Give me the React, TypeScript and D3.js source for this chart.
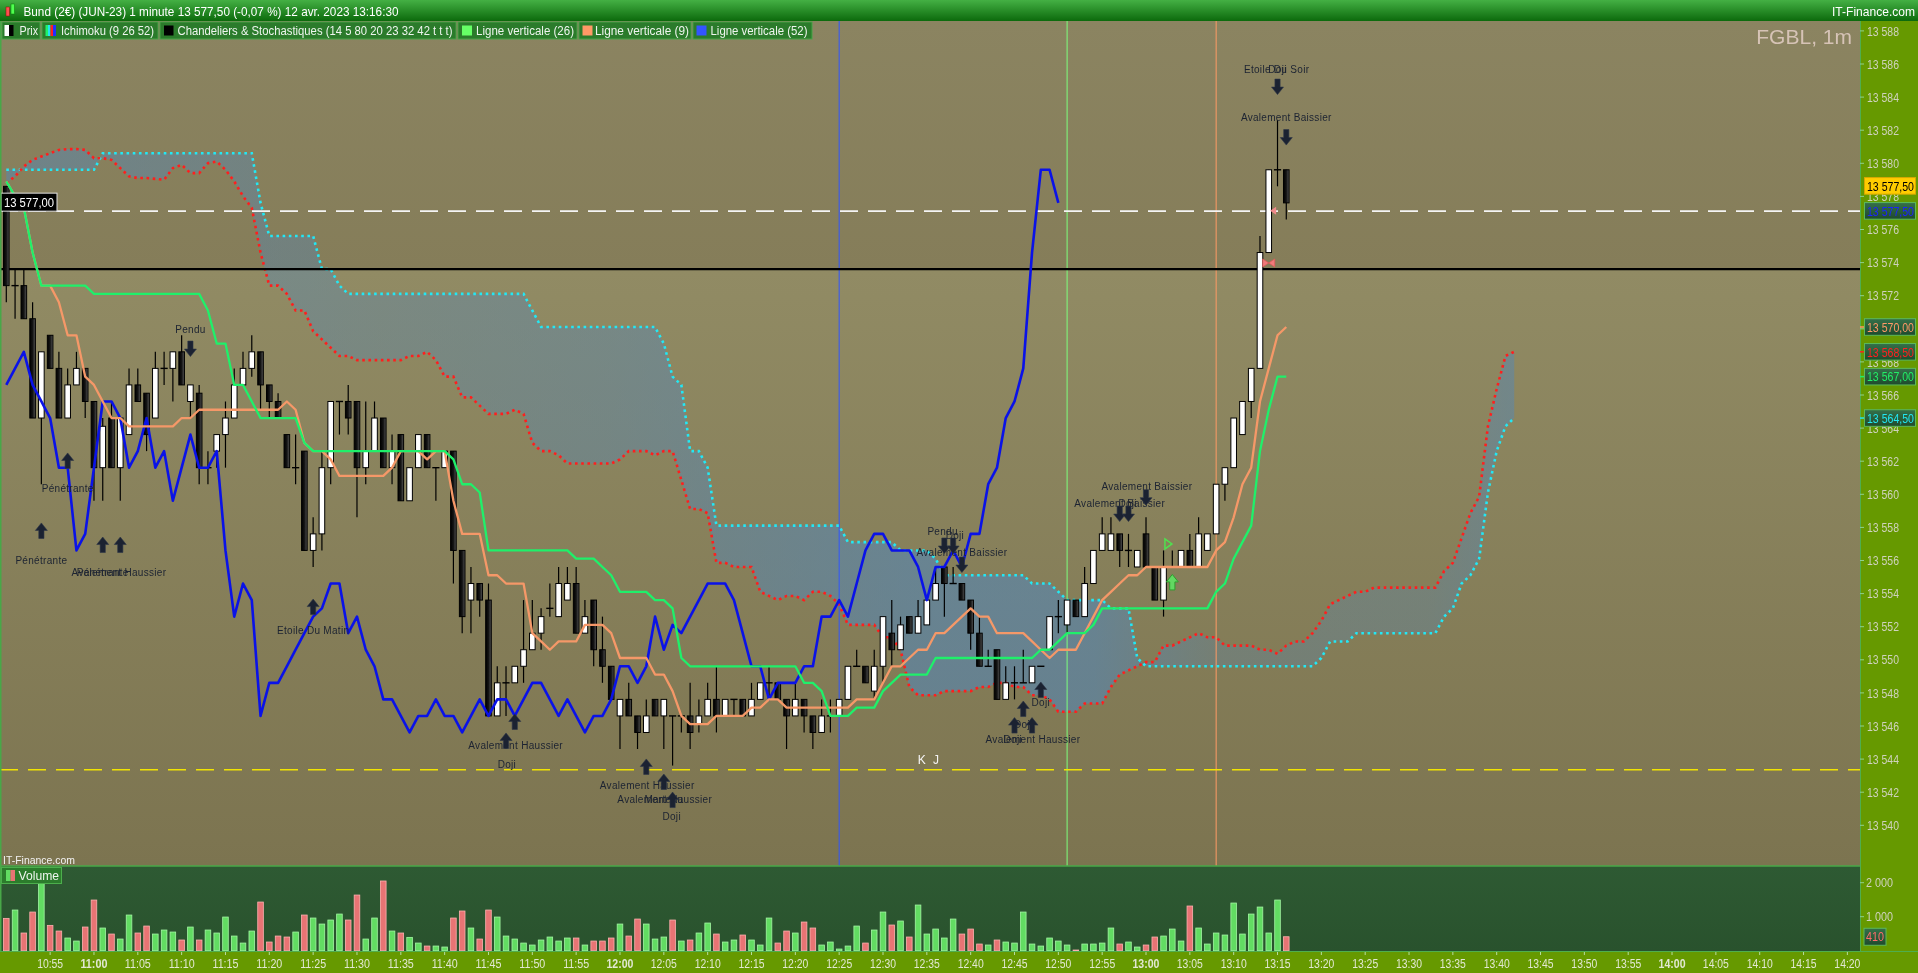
import React, { useEffect } from "react";
import * as d3 from "d3";

// ---------------- DATA ----------------
const SESSION_START = "10:50";
const OPEN = [13578.5, 13572.5, 13572.5, 13570.5, 13564.5, 13569.5, 13567.5, 13564.5, 13566.5, 13567.5,
  13565.5, 13561.5, 13564.5, 13561.5, 13563.5, 13566.5, 13566, 13564.5, 13567.5, 13567.5,
  13568.5, 13565.5, 13566, 13561.5, 13562.5, 13563.5, 13564.5, 13566.5, 13567.5, 13568.5,
  13566.5, 13565.5, 13563.5, 13561.5, 13562.5, 13556.5, 13557.5, 13561.5, 13565.5, 13565.5,
  13565.5, 13561.5, 13562.5, 13564.5, 13561.5, 13563.5, 13559.5, 13561.5, 13563.5, 13561.5,
  13561.5, 13562.5, 13556.5, 13553.5, 13554.5, 13553.5, 13546.5, 13548.5, 13548.5, 13549.5,
  13550.5, 13551.5, 13553, 13552.5, 13553.5, 13554.5, 13551.5, 13553.5, 13550.5, 13549.5,
  13546.5, 13547.5, 13546.5, 13545.5, 13547.5, 13546.5, 13546.5, 13546.5, 13546.5, 13546,
  13546.5, 13547.5, 13546.5, 13547.5, 13547.5, 13546.5, 13547.5, 13548.5, 13548.5, 13547.5,
  13546.5, 13547.5, 13546.5, 13545.5, 13546.5, 13546.5, 13547.5, 13549.5, 13549.5, 13548,
  13549.5, 13551.5, 13550.5, 13552.5, 13551.5, 13552, 13553.5, 13555.5, 13554.5, 13554.5,
  13553.5, 13551.5, 13549.5, 13550.5, 13547.5, 13548.5, 13548.5, 13548.5, 13549.5, 13550.5,
  13552.5, 13552, 13553.5, 13552.5, 13554.5, 13556.5, 13556.5, 13557.5, 13556.5, 13555.5,
  13557.5, 13555.5, 13553.5, 13555.5, 13555.5, 13556.5, 13555.5, 13556.5, 13557.5, 13560.5,
  13561.5, 13563.5, 13565.5, 13567.5, 13574.5, 13579.5, 13579.5];
const HIGH = [13578.5, 13573.5, 13573.5, 13571.5, 13568.5, 13569.5, 13568.5, 13567.5, 13568.5, 13567.5,
  13565.5, 13564.5, 13565.5, 13564.5, 13567.5, 13567.5, 13566, 13568.5, 13568.5, 13568.5,
  13569.5, 13566.5, 13566.5, 13562.5, 13563.5, 13565.5, 13567.5, 13568.5, 13569.5, 13568.5,
  13566.5, 13566, 13563.5, 13563.5, 13562.5, 13558.5, 13562.5, 13565.5, 13565.5, 13566.5,
  13565.5, 13565.5, 13565.5, 13564.5, 13563.5, 13563.5, 13561.5, 13563.5, 13563.5, 13561.5,
  13562.5, 13562.5, 13556.5, 13555.5, 13554.5, 13554.5, 13549.5, 13549.5, 13549.5, 13553.5,
  13553.5, 13553, 13554.5, 13555.5, 13555.5, 13555.5, 13553.5, 13553.5, 13552.5, 13549.5,
  13547.5, 13548.5, 13546.5, 13547.5, 13547.5, 13547.5, 13546.5, 13546.5, 13548.5, 13547.5,
  13548.5, 13549.5, 13547.5, 13547.5, 13547.5, 13548.5, 13548.5, 13549.5, 13548.5, 13547.5,
  13548.5, 13547.5, 13546.5, 13547.5, 13547.5, 13547.5, 13549.5, 13550.5, 13549.5, 13550.5,
  13552.5, 13553.5, 13552.5, 13552.5, 13553.5, 13553.5, 13555.5, 13555.5, 13555.5, 13554.5,
  13553.5, 13552.5, 13550.5, 13550.5, 13549.5, 13549.5, 13550.5, 13549.5, 13549.5, 13552.5,
  13553.5, 13553.5, 13553.5, 13555.5, 13556.5, 13558.5, 13558.5, 13557.5, 13557.5, 13556.5,
  13558.5, 13555.5, 13556.5, 13556.5, 13556.5, 13557.5, 13558.5, 13557.5, 13560.5, 13561.5,
  13564.5, 13565.5, 13567.5, 13575.5, 13579.5, 13582.5, 13579.5];
const LOW = [13571.5, 13570.5, 13570.5, 13564.5, 13560.5, 13567.5, 13564.5, 13564.5, 13566.5, 13564.5,
  13559.5, 13559.5, 13561.5, 13559.5, 13563.5, 13565.5, 13562.5, 13564.5, 13566.5, 13565.5,
  13566.5, 13564.5, 13560.5, 13560.5, 13561.5, 13561.5, 13564.5, 13566.5, 13567, 13565,
  13564.5, 13564.5, 13561.5, 13560.5, 13556.5, 13555.5, 13556.5, 13560.5, 13563.5, 13563.5,
  13558.5, 13560.5, 13562.5, 13561.5, 13560.5, 13559.5, 13559.5, 13561.5, 13561.5, 13559.5,
  13561.5, 13554.5, 13551.5, 13551.5, 13552.5, 13546.5, 13546.5, 13546.5, 13548.5, 13548.5,
  13550.5, 13550.5, 13552.5, 13552.5, 13553.5, 13551.5, 13551.5, 13549.5, 13548.5, 13547.5,
  13544.5, 13546.5, 13544.5, 13545.5, 13546.5, 13544.5, 13543.5, 13545.5, 13544.5, 13545.5,
  13546.5, 13545.5, 13546.5, 13546.5, 13546.5, 13546.5, 13547.5, 13547.5, 13547.5, 13544.5,
  13546.5, 13545.5, 13544.5, 13545.5, 13545.5, 13546.5, 13547.5, 13549.5, 13548.5, 13547.5,
  13548.5, 13549.5, 13550.5, 13551.5, 13551.5, 13552, 13553.5, 13552.5, 13554.5, 13553.5,
  13550.5, 13549.5, 13549.5, 13547.5, 13547.5, 13547.5, 13548.5, 13548.5, 13549.5, 13550.5,
  13551.5, 13551.5, 13552.5, 13552.5, 13554.5, 13556.5, 13556.5, 13555.5, 13555.5, 13555.5,
  13555.5, 13553.5, 13552.5, 13555.5, 13555.5, 13555.5, 13555.5, 13556.5, 13557.5, 13559.5,
  13561.5, 13563.5, 13564.5, 13567.5, 13574.5, 13578.5, 13576.5];
const CLOSE = [13572.5, 13572.5, 13570.5, 13564.5, 13568.5, 13567.5, 13564.5, 13566.5, 13567.5, 13565.5,
  13561.5, 13564, 13561.5, 13564.5, 13566.5, 13565.5, 13563.5, 13567.5, 13567.5, 13568.5,
  13566.5, 13566.5, 13561.5, 13561.5, 13563.5, 13564.5, 13566.5, 13567.5, 13568.5, 13566.5,
  13565.5, 13564.5, 13561.5, 13561.5, 13556.5, 13557.5, 13561.5, 13565.5, 13565.5, 13564.5,
  13561.5, 13562.5, 13564.5, 13561.5, 13562.5, 13559.5, 13561.5, 13563.5, 13561.5, 13561.5,
  13562.5, 13556.5, 13552.5, 13554.5, 13553.5, 13546.5, 13548.5, 13548.5, 13549.5, 13550.5,
  13551.5, 13552.5, 13553, 13554.5, 13554.5, 13551.5, 13552.5, 13550.5, 13549.5, 13547.5,
  13547.5, 13546.5, 13545.5, 13546.5, 13546.5, 13547.5, 13546.5, 13546.5, 13545.5, 13546.5,
  13547.5, 13546.5, 13547.5, 13547.5, 13546.5, 13547.5, 13548.5, 13548.5, 13547.5, 13546.5,
  13547.5, 13546.5, 13545.5, 13546.5, 13546.5, 13547.5, 13549.5, 13549.5, 13548.5, 13549.5,
  13552.5, 13550.5, 13552, 13551.5, 13552.5, 13553.5, 13554.5, 13554.5, 13554.5, 13553.5,
  13551.5, 13549.5, 13549.5, 13547.5, 13548.5, 13548.5, 13548.5, 13549.5, 13549.5, 13552.5,
  13552.5, 13553.5, 13552.5, 13554.5, 13556.5, 13557.5, 13557.5, 13556.5, 13556.5, 13556.5,
  13555.5, 13553.5, 13555.5, 13555.5, 13556.5, 13555.5, 13557.5, 13557.5, 13560.5, 13561.5,
  13564.5, 13565.5, 13567.5, 13574.5, 13579.5, 13579.5, 13577.5];
const VOLUME = [951, 1196, 520, 1137, 2000, 745, 578, 373, 284, 696,
  1490, 667, 490, 343, 1049, 520, 725, 490, 608, 549,
  314, 696, 314, 608, 520, 990, 431, 225, 578, 1431,
  255, 431, 402, 549, 1049, 961, 784, 902, 1078, 902,
  1637, 343, 961, 2050, 578, 520, 392, 225, 137, 137,
  108, 961, 1167, 667, 343, 1196, 990, 431, 343, 225,
  167, 314, 402, 284, 373, 373, 167, 284, 284, 373,
  784, 431, 931, 784, 343, 402, 902, 284, 314, 520,
  814, 490, 255, 314, 461, 314, 167, 961, 225, 578,
  520, 843, 667, 167, 255, 49, 137, 725, 225, 608,
  1137, 755, 873, 402, 1343, 490, 637, 373, 931, 490,
  637, 196, 167, 314, 255, 225, 1137, 196, 137, 373,
  284, 167, 20, 196, 196, 225, 667, 196, 255, 108,
  167, 402, 431, 637, 284, 1314, 667, 196, 520, 461,
  1402, 490, 1078, 1284, 520, 1490, 410];

// Ichimoku values before enough history exists
const TENKAN_WARMUP = [13578.8, 13577.9, 13577.2, 13574.5, 13572.5, 13572.5, 13571.5, 13569.5];
const KIJUN_WARMUP = [13578.8, 13577.9, 13577.2, 13574.5, 13572.5, 13572.5, 13572.5, 13572.5, 13572.5, 13572.5,
  13572, 13572, 13572, 13572, 13572, 13572, 13572, 13572, 13572, 13572, 13572, 13572, 13572, 13571, 13569];
const SENKOU_A_WARMUP = [13578.7, 13579.1, 13579.7, 13580.1, 13580.3, 13580.5, 13580.7, 13580.75, 13580.75, 13580.7,
  13580.2, 13580.2, 13580.1, 13579.6, 13579.1, 13579, 13579, 13578.95, 13578.9, 13579.6,
  13579.8, 13579.3, 13579.3, 13579.9, 13580, 13579.5];
const SENKOU_B_WARMUP = [13579.5, 13579.5, 13579.5, 13579.5, 13579.5, 13579.5, 13579.5, 13579.5, 13579.5, 13579.5,
  13579.5, 13580.5, 13580.5, 13580.5, 13580.5, 13580.5, 13580.5, 13580.5, 13580.5, 13580.5,
  13580.5, 13580.5, 13580.5, 13580.5, 13580.5, 13580.5, 13580.5, 13580.5, 13580.5, 13577.5,
  13575.5, 13575.5, 13575.5, 13575.5, 13575.5, 13575.5, 13573.5, 13573.5, 13572.5, 13572,
  13572, 13572, 13572, 13572, 13572, 13572, 13572, 13572, 13572, 13572,
  13572, 13572, 13572, 13572, 13572, 13572, 13572, 13572, 13572, 13572,
  13571, 13570, 13570, 13570, 13570, 13570, 13570, 13570, 13570, 13570,
  13570, 13570, 13570, 13570, 13570, 13569, 13567];
const TENKAN_PERIOD = 9;
const KIJUN_PERIOD = 26;
const SENKOU_PERIOD = 52;

const PRICE_TICKS = [13540, 13542, 13544, 13546, 13548, 13550, 13552, 13554, 13556, 13558, 13560, 13562,
  13564, 13566, 13568, 13570, 13572, 13574, 13576, 13578, 13580, 13582, 13584, 13586, 13588];
const TIME_LABELS = ["10:55", "11:00", "11:05", "11:10", "11:15", "11:20", "11:25", "11:30", "11:35", "11:40",
  "11:45", "11:50", "11:55", "12:00", "12:05", "12:10", "12:15", "12:20", "12:25", "12:30", "12:35", "12:40",
  "12:45", "12:50", "12:55", "13:00", "13:05", "13:10", "13:15", "13:20", "13:25", "13:30", "13:35", "13:40",
  "13:45", "13:50", "13:55", "14:00", "14:05", "14:10", "14:15", "14:20"];
const VOLUME_TICKS = [1000, 2000];
const VLINE_INDEX = [121, 138, 95]; // Ligne verticale (26), (9), (52)
const LEVEL_BLACK = 13573.5;
const LEVEL_WHITE = 13577;
const LEVEL_YELLOW = 13543.25;

const PATTERN_TEXTS = [
  { t: "Pendu", i: 21, p: 13569.88 },
  { t: "Pénétrante", i: 7, p: 13560.27 },
  { t: "Pénétrante", i: 4, p: 13555.88 },
  { t: "Pénétrante", i: 11, p: 13555.2 },
  { t: "Avalement Haussier", i: 12.85, p: 13555.2 },
  { t: "Etoile Du Matin", i: 35, p: 13551.69 },
  { t: "Avalement Haussier", i: 58.1, p: 13544.74 },
  { t: "Doji", i: 57.1, p: 13543.6 },
  { t: "Avalement Haussier", i: 73.1, p: 13542.28 },
  { t: "Avalement Haussier", i: 75.1, p: 13541.44 },
  { t: "Marteau", i: 75, p: 13541.44 },
  { t: "Doji", i: 75.9, p: 13540.41 },
  { t: "Pendu", i: 106.8, p: 13557.63 },
  { t: "Doji", i: 108.2, p: 13557.43 },
  { t: "Avalement Baissier", i: 109, p: 13556.36 },
  { t: "Avalement Haussier", i: 117.1, p: 13545.06 },
  { t: "Doji", i: 114.8, p: 13545.06 },
  { t: "Doji", i: 116, p: 13546.0 },
  { t: "Doji", i: 118, p: 13547.3 },
  { t: "Avalement Baissier", i: 130.1, p: 13560.36 },
  { t: "Avalement Baissier", i: 127, p: 13559.33 },
  { t: "Doji", i: 127.9, p: 13559.33 },
  { t: "Etoile Du Soir", i: 144.9, p: 13585.59 },
  { t: "Doji", i: 145, p: 13585.59 },
  { t: "Avalement Baissier", i: 146, p: 13582.66 },
];
const PATTERN_ARROWS = [
  { d: "down", i: 21, p: 13569.15 },
  { d: "up", i: 7, p: 13562.39 },
  { d: "up", i: 4, p: 13558.16 },
  { d: "up", i: 11, p: 13557.31 },
  { d: "up", i: 13, p: 13557.31 },
  { d: "up", i: 35, p: 13553.56 },
  { d: "up", i: 57, p: 13545.47 },
  { d: "up", i: 58, p: 13546.62 },
  { d: "up", i: 73, p: 13543.9 },
  { d: "up", i: 75, p: 13542.99 },
  { d: "up", i: 76, p: 13541.9 },
  { d: "down", i: 107, p: 13557.25 },
  { d: "down", i: 108, p: 13557.25 },
  { d: "down", i: 109, p: 13556.1 },
  { d: "up", i: 115, p: 13546.4 },
  { d: "up", i: 116, p: 13547.4 },
  { d: "up", i: 117, p: 13546.4 },
  { d: "up", i: 118, p: 13548.55 },
  { d: "down", i: 130, p: 13560.17 },
  { d: "down", i: 127, p: 13559.18 },
  { d: "down", i: 128, p: 13559.18 },
  { d: "down", i: 145, p: 13584.98 },
  { d: "down", i: 146, p: 13581.93 },
];
const SIGNAL_UP = { i: 133, p: 13555.05 };
const SIGNAL_TRI = { i: 132.5, p: 13556.89 };
const PINK_MARK = { i: 144, p: 13573.87 };
const PINK_TRI = { i: 144.5, p: 13577.03 };
const KJ_LABEL = { t: "K J", i: 105.3, p: 13543.84 };

// ---------------- GEOMETRY ----------------
const W = 1918, H = 973;
const AXIS_X = 1860;
const CHART_TOP = 21, CHART_BOTTOM = 866, VOL_BOTTOM = 951;

const toMin = (s: string) => { const [h, m] = s.split(":").map(Number); return h * 60 + m; };
const START = toMin(SESSION_START);

const x = d3.scaleLinear().domain([0, 210]).range([6.3, 6.3 + 8.767 * 210]);
const y = d3.scaleLinear().domain([13560, 13580]).range([492.5, 161.5]);
const yv = d3.scaleLinear().domain([0, 2000]).range([950.7, 882.7]);

const N = CLOSE.length;
const midRange = (a: number, b: number) =>
  ((d3.max(HIGH.slice(a, b + 1)) as number) + (d3.min(LOW.slice(a, b + 1)) as number)) / 2;
const tenkan = CLOSE.map((_, i) => (i < TENKAN_PERIOD - 1 ? TENKAN_WARMUP[i] : midRange(i - TENKAN_PERIOD + 1, i)));
const kijun = CLOSE.map((_, i) => (i < KIJUN_PERIOD - 1 ? KIJUN_WARMUP[i] : midRange(i - KIJUN_PERIOD + 1, i)));
const SHIFT = KIJUN_PERIOD;
const senkouA = d3.range(N + SHIFT).map((j) =>
  j < SHIFT ? SENKOU_A_WARMUP[j] : (tenkan[j - SHIFT] + kijun[j - SHIFT]) / 2);
const senkouB = d3.range(N + SHIFT).map((j) =>
  j < SHIFT + SENKOU_PERIOD - 1 ? SENKOU_B_WARMUP[j] : midRange(j - SHIFT - SENKOU_PERIOD + 1, j - SHIFT));
const chikou = CLOSE.slice(SHIFT);

const line = d3.line<number>().x((_, i) => x(i)).y((d) => y(d));
const cloud = d3.area<number>().x((_, j) => x(j)).y0((_, j) => y(senkouA[j])).y1((_, j) => y(senkouB[j]));

const fmt = (v: number, dec: boolean) => {
  const s = dec ? v.toFixed(2).replace(".", ",") : String(Math.round(v));
  const [ip, fp] = s.split(",");
  const ints = ip.replace(/\B(?=(\d{3})+(?!\d))/g, " ");
  return fp !== undefined ? ints + "," + fp : ints;
};

function arrowPath(cx: number, top: number, dir: string) {
  const w = 6, sw = 2.6, hh = 7.5, L = 15.5;
  if (dir === "up")
    return `M${cx},${top}L${cx + w},${top + hh}L${cx + sw},${top + hh}L${cx + sw},${top + L}L${cx - sw},${top + L}L${cx - sw},${top + hh}L${cx - w},${top + hh}Z`;
  return `M${cx - sw},${top}L${cx + sw},${top}L${cx + sw},${top + L - hh}L${cx + w},${top + L - hh}L${cx},${top + L}L${cx - w},${top + L - hh}L${cx - sw},${top + L - hh}Z`;
}

const UI = "'Liberation Sans', Arial, sans-serif";

export default function App() {
  useEffect(() => {
    document.body.style.margin = "0";
    document.body.style.overflow = "hidden";
  }, []);

  const last = CLOSE[N - 1];
  const valueBoxes = [
    { v: tenkan[N - 1], color: "#ff9966" },
    { v: senkouA[N + SHIFT - 1], color: "#ff2020" },
    { v: kijun[N - 1], color: "#22ee66" },
    { v: senkouB[N + SHIFT - 1], color: "#22e5f0" },
  ];
  const vColors = ["#7dff7d", "#ff9a66", "#2f55ff"];

  const legend = [
    { label: "Prix", x0: 2, x1: 40, tx: 19.5, tl: 18.5 },
    { label: "Ichimoku (9 26 52)", x0: 42, x1: 158, tx: 61, tl: 93 },
    { label: "Chandeliers & Stochastiques (14 5 80 20 23 32 42 t t t)", x0: 160, x1: 456, tx: 177.5, tl: 275 },
    { label: "Ligne verticale (26)", x0: 458, x1: 577, tx: 476, tl: 98 },
    { label: "Ligne verticale (9)", x0: 579, x1: 691, tx: 595, tl: 94 },
    { label: "Ligne verticale (52)", x0: 693, x1: 812, tx: 710.5, tl: 97 },
  ];

  return (
    <svg width={W} height={H} viewBox={`0 0 ${W} ${H}`}
      style={{ position: "fixed", left: 0, top: 0, display: "block" }}>
      <defs>
        <linearGradient id="bgTop" x1="0" y1="0" x2="0" y2="1">
          <stop offset="0" stopColor="#8b8461" />
          <stop offset="1" stopColor="#857d59" />
        </linearGradient>
        <linearGradient id="bgBot" x1="0" y1="0" x2="0" y2="1">
          <stop offset="0" stopColor="#918b64" />
          <stop offset="1" stopColor="#7c7450" />
        </linearGradient>
        <linearGradient id="volBg" x1="0" y1="0" x2="0" y2="1">
          <stop offset="0" stopColor="#2e5a33" />
          <stop offset="1" stopColor="#29522d" />
        </linearGradient>
        <linearGradient id="hdr" x1="0" y1="0" x2="0" y2="1">
          <stop offset="0" stopColor="#44b044" />
          <stop offset="1" stopColor="#0c6a0c" />
        </linearGradient>
        <linearGradient id="blackBody" x1="0" y1="0" x2="1" y2="0">
          <stop offset="0" stopColor="#000" />
          <stop offset="0.5" stopColor="#141414" />
          <stop offset="1" stopColor="#555" />
        </linearGradient>
        <linearGradient id="boxBg" x1="0" y1="0" x2="0" y2="1">
          <stop offset="0" stopColor="#34704a" />
          <stop offset="1" stopColor="#1f4a2d" />
        </linearGradient>
        <linearGradient id="cloudFill" gradientUnits="userSpaceOnUse" x1="0" y1="0" x2="1520" y2="0">
          <stop offset="0" stopColor="#5087be" stopOpacity="0.45" />
          <stop offset="0.25" stopColor="#5087be" stopOpacity="0.33" />
          <stop offset="0.4" stopColor="#5087be" stopOpacity="0.38" />
          <stop offset="0.6" stopColor="#5087be" stopOpacity="0.55" />
          <stop offset="0.72" stopColor="#5087be" stopOpacity="0.55" />
          <stop offset="0.8" stopColor="#5087be" stopOpacity="0.28" />
          <stop offset="0.94" stopColor="#5087be" stopOpacity="0.3" />
          <stop offset="1" stopColor="#5087be" stopOpacity="0.45" />
        </linearGradient>
        <clipPath id="chartClip">
          <rect x={0} y={CHART_TOP} width={AXIS_X} height={CHART_BOTTOM - CHART_TOP} />
        </clipPath>
      </defs>

      {/* backgrounds */}
      <rect x={0} y={CHART_TOP} width={AXIS_X} height={y(LEVEL_BLACK) - CHART_TOP} fill="url(#bgTop)" />
      <rect x={0} y={y(LEVEL_BLACK)} width={AXIS_X} height={CHART_BOTTOM - y(LEVEL_BLACK)} fill="url(#bgBot)" />
      <rect x={0} y={CHART_BOTTOM} width={AXIS_X} height={VOL_BOTTOM - CHART_BOTTOM} fill="url(#volBg)" />
      <rect x={AXIS_X} y={CHART_TOP} width={W - AXIS_X} height={H - CHART_TOP} fill="#669900" />
      <rect x={0} y={VOL_BOTTOM} width={W} height={H - VOL_BOTTOM} fill="#669900" />

      <g clipPath="url(#chartClip)">
        {/* cloud */}
        <path d={cloud(senkouA) || ""} fill="url(#cloudFill)" />

        {/* vertical lines */}
        {VLINE_INDEX.map((vi, k) => (
          <line key={k} x1={x(vi)} x2={x(vi)} y1={CHART_TOP} y2={CHART_BOTTOM} stroke={vColors[k]} strokeWidth={1} />
        ))}

        {/* senkou spans */}
        <path d={line(senkouB) || ""} fill="none" stroke="#22e8f5" strokeWidth={2.6} strokeDasharray="2.6 3.6" />
        <path d={line(senkouA) || ""} fill="none" stroke="#ff1e1e" strokeWidth={2.6} strokeDasharray="2.6 3.6" />

        {/* horizontal levels */}
        <line x1={0} x2={AXIS_X} y1={y(LEVEL_BLACK)} y2={y(LEVEL_BLACK)} stroke="#000" strokeWidth={2.2} />
        <line x1={0} x2={AXIS_X} y1={y(LEVEL_WHITE)} y2={y(LEVEL_WHITE)} stroke="#f4f4f4" strokeWidth={1.6} strokeDasharray="18 10" />
        <line x1={0} x2={AXIS_X} y1={y(LEVEL_YELLOW)} y2={y(LEVEL_YELLOW)} stroke="#f2e400" strokeWidth={1.6} strokeDasharray="18 10" />

        {/* candles */}
        {OPEN.map((o, i) => {
          const c = CLOSE[i];
          const cx = x(i);
          const t = y(Math.max(o, c)), b = y(Math.min(o, c));
          return (
            <g key={i}>
              <line x1={cx} x2={cx} y1={y(HIGH[i])} y2={y(LOW[i])} stroke="#000" strokeWidth={1.2} />
              {o === c ? (
                <line x1={cx - 3.6} x2={cx + 3.6} y1={t} y2={t} stroke="#000" strokeWidth={1.4} />
              ) : (
                <rect x={cx - 2.8} y={t} width={5.6} height={b - t}
                  fill={c > o ? "#ffffff" : "url(#blackBody)"} stroke="#000" strokeWidth={1} />
              )}
            </g>
          );
        })}

        {/* ichimoku lines */}
        <path d={line(chikou) || ""} fill="none" stroke="#0a12e8" strokeWidth={2.6} strokeLinejoin="round" />
        <path d={line(tenkan) || ""} fill="none" stroke="#f59868" strokeWidth={2.3} strokeLinejoin="round" />
        <path d={line(kijun) || ""} fill="none" stroke="#1ff06a" strokeWidth={2.3} strokeLinejoin="round" />

        {/* pattern labels */}
        {PATTERN_TEXTS.map((a, k) => (
          <text key={k} x={x(a.i)} y={y(a.p) + 3.6} textAnchor="middle" fontFamily={UI} fontSize={10}
            letterSpacing={0.3} fill="#1c2332">{a.t}</text>
        ))}
        {PATTERN_ARROWS.map((a, k) => (
          <path key={k} d={arrowPath(x(a.i), y(a.p), a.d)} fill="#1b2231" stroke="#2d3548" strokeWidth={0.6} />
        ))}
        <path d={arrowPath(x(SIGNAL_UP.i), y(SIGNAL_UP.p), "up")} fill="#62d862" stroke="#2e9e2e" strokeWidth={1} />
        <path d={`M${x(SIGNAL_TRI.i) - 3},${y(SIGNAL_TRI.p) - 5}L${x(SIGNAL_TRI.i) + 4},${y(SIGNAL_TRI.p)}L${x(SIGNAL_TRI.i) - 3},${y(SIGNAL_TRI.p) + 5}Z`}
          fill="none" stroke="#4fe04f" strokeWidth={1.5} />
        <path d={`M${x(PINK_MARK.i) - 6},${y(PINK_MARK.p) - 4}L${x(PINK_MARK.i)},${y(PINK_MARK.p)}L${x(PINK_MARK.i) - 6},${y(PINK_MARK.p) + 4}Z M${x(PINK_MARK.i) + 6},${y(PINK_MARK.p) - 4}L${x(PINK_MARK.i)},${y(PINK_MARK.p)}L${x(PINK_MARK.i) + 6},${y(PINK_MARK.p) + 4}Z`}
          fill="#f07a7a" stroke="#e05a5a" strokeWidth={0.8} />
        <path d={`M${x(PINK_TRI.i) + 3},${y(PINK_TRI.p) - 4}L${x(PINK_TRI.i) - 3},${y(PINK_TRI.p)}L${x(PINK_TRI.i) + 3},${y(PINK_TRI.p) + 4}Z`}
          fill="#f08a8a" />
        <text x={x(KJ_LABEL.i)} y={y(KJ_LABEL.p) + 4.5} textAnchor="middle" fontFamily={UI} fontSize={12}
          letterSpacing={2} fill="#f4f4f4">{KJ_LABEL.t}</text>
      </g>

      {/* left level tag */}
      <rect x={1} y={y(LEVEL_WHITE) - 18} width={56} height={18} fill="#000" stroke="#e0e0e0" strokeWidth={1} />
      <text x={4} y={y(LEVEL_WHITE) - 4.5} fontFamily={UI} fontSize={12.5} fill="#fff" textLength={50}
        lengthAdjust="spacingAndGlyphs">{fmt(LEVEL_WHITE, true)}</text>

      {/* watermark */}
      <text x={1852} y={44} textAnchor="end" fontFamily={UI} fontSize={21} fill="#d6c3b6">FGBL, 1m</text>

      {/* volume */}
      {VOLUME.map((v, i) => {
        const up = i === 0 ? CLOSE[0] >= OPEN[0] : CLOSE[i] >= CLOSE[i - 1];
        return (
          <rect key={i} x={x(i) - 2.8} y={yv(v)} width={5.6} height={yv(0) - yv(v)}
            fill={up ? "#62dc62" : "#e87474"} stroke={up ? "#a4f7a4" : "#ffb0b0"} strokeWidth={0.8} />
        );
      })}
      <line x1={0} x2={AXIS_X} y1={CHART_BOTTOM} y2={CHART_BOTTOM} stroke="#48a848" strokeWidth={1.5} />
      <line x1={0} x2={W} y1={VOL_BOTTOM + 0.5} y2={VOL_BOTTOM + 0.5} stroke="#4fae4f" strokeWidth={1.2} />
      <line x1={0.75} x2={0.75} y1={CHART_TOP} y2={VOL_BOTTOM} stroke="#48a848" strokeWidth={1.5} />
      <line x1={AXIS_X + 0.5} x2={AXIS_X + 0.5} y1={CHART_TOP} y2={VOL_BOTTOM} stroke="#4fae4f" strokeWidth={1} />

      <text x={3} y={864} fontFamily={UI} fontSize={11} fill="#f2f2f2" textLength={72}
        lengthAdjust="spacingAndGlyphs">IT-Finance.com</text>
      <rect x={1.5} y={867.5} width={60} height={16} fill="#2c7c2c" stroke="#4cae4c" strokeWidth={1} />
      <rect x={6} y={870} width={4.5} height={11} fill="#62dc62" />
      <rect x={10.5} y={870} width={4.5} height={11} fill="#e87474" />
      <text x={18.5} y={880} fontFamily={UI} fontSize={12} fill="#eef5ee" textLength={40.5}
        lengthAdjust="spacingAndGlyphs">Volume</text>

      {/* price axis */}
      {PRICE_TICKS.map((p) => (
        <g key={p}>
          <line x1={AXIS_X} x2={AXIS_X + 4} y1={y(p) + 1.8} y2={y(p) + 1.8} stroke="#8fcf8f" strokeWidth={1} />
          <text x={1867} y={y(p) + 6.4} fontFamily={UI} fontSize={13} fill="#cfd2bd" textLength={32}
            lengthAdjust="spacingAndGlyphs">{fmt(p, false)}</text>
        </g>
      ))}
      {valueBoxes.map((b, k) => (
        <g key={k}>
          <line x1={AXIS_X} x2={AXIS_X + 5} y1={y(b.v)} y2={y(b.v)} stroke={b.color} strokeWidth={1.5} />
          <rect x={1864.5} y={y(b.v) - 8.3} width={51} height={16.6} fill="url(#boxBg)" stroke="#5cb85c" strokeWidth={1} />
          <text x={1867} y={y(b.v) + 4.7} fontFamily={UI} fontSize={13} fill={b.color} textLength={47}
            lengthAdjust="spacingAndGlyphs">{fmt(b.v, true)}</text>
        </g>
      ))}
      <rect x={1864.5} y={y(last) + 8 - 8.3} width={51} height={16.6} fill="url(#boxBg)" stroke="#5cb85c" strokeWidth={1} />
      <text x={1867} y={y(last) + 8 + 4.7} fontFamily={UI} fontSize={13} fill="#1c22ff" textLength={47}
        lengthAdjust="spacingAndGlyphs">{fmt(last, true)}</text>
      <rect x={1864.5} y={y(last) - 17 - 8.3} width={51} height={16.6} fill="#ffcc00" stroke="#d8a800" strokeWidth={1} />
      <text x={1867} y={y(last) - 17 + 4.7} fontFamily={UI} fontSize={13} fill="#000" textLength={47}
        lengthAdjust="spacingAndGlyphs">{fmt(last, true)}</text>

      {/* volume axis */}
      {VOLUME_TICKS.map((v) => (
        <g key={v}>
          <line x1={AXIS_X} x2={AXIS_X + 4} y1={yv(v)} y2={yv(v)} stroke="#8fcf8f" strokeWidth={1} />
          <text x={1866} y={yv(v) + 4.5} fontFamily={UI} fontSize={12.5} fill="#cfd2bd" textLength={27}
            lengthAdjust="spacingAndGlyphs">{fmt(v, false)}</text>
        </g>
      ))}
      <rect x={1864} y={yv(VOLUME[N - 1]) - 8.5} width={22} height={17} fill="url(#boxBg)" stroke="#5cb85c" strokeWidth={1} />
      <text x={1866} y={yv(VOLUME[N - 1]) + 4.5} fontFamily={UI} fontSize={12.5} fill="#ff6b6b" textLength={18}
        lengthAdjust="spacingAndGlyphs">{VOLUME[N - 1]}</text>

      {/* time axis */}
      {TIME_LABELS.map((s) => {
        const m = toMin(s) - START;
        const hour = s.endsWith(":00");
        return (
          <g key={s}>
            <line x1={x(m)} x2={x(m)} y1={VOL_BOTTOM + 1} y2={VOL_BOTTOM + 4} stroke="#b8dca0" strokeWidth={1} />
            <text x={x(m)} y={967.5} textAnchor="middle" fontFamily={UI} fontSize={12}
              fontWeight={hour ? "bold" : "normal"} fill="#e2e8d2" textLength={hour ? 27 : 26}
              lengthAdjust="spacingAndGlyphs">{s}</text>
          </g>
        );
      })}

      {/* header */}
      <rect x={0} y={0} width={W} height={CHART_TOP} fill="url(#hdr)" />
      <rect x={6} y={7} width={3.5} height={9} fill="#ff5050" stroke="#900" strokeWidth={0.5} />
      <rect x={11} y={4} width={3.5} height={10} fill="#50ff50" stroke="#070" strokeWidth={0.5} />
      <text x={23.5} y={15.5} fontFamily={UI} fontSize={13} fill="#ffffff" textLength={375}
        lengthAdjust="spacingAndGlyphs">Bund (2€) (JUN-23) 1 minute 13 577,50 (-0,07 %) 12 avr. 2023 13:16:30</text>
      <text x={1915} y={15.5} textAnchor="end" fontFamily={UI} fontSize={13} fill="#ffffff" textLength={83}
        lengthAdjust="spacingAndGlyphs">IT-Finance.com</text>

      {/* legend row */}
      {legend.map((l, k) => (
        <g key={k}>
          <rect x={l.x0} y={22} width={l.x1 - l.x0} height={17} fill="#2b7b2b" stroke="#46a446" strokeWidth={1} />
          <text x={l.tx} y={35} fontFamily={UI} fontSize={12.5} fill="#eef5ee" textLength={l.tl}
            lengthAdjust="spacingAndGlyphs">{l.label}</text>
        </g>
      ))}
      <rect x={4.5} y={25} width={4.5} height={11} fill="#fff" />
      <rect x={9} y={25} width={4.5} height={11} fill="#000" />
      <rect x={45.5} y={25} width={2.5} height={11} fill="#1ff06a" />
      <rect x={48} y={25} width={2.5} height={11} fill="#22e5f0" />
      <rect x={50.5} y={25} width={2.5} height={11} fill="#ff2020" />
      <rect x={53} y={25} width={3} height={11} fill="#2030ff" />
      <rect x={164} y={25.5} width={9.5} height={10} fill="#000" />
      <rect x={462} y={25.5} width={10} height={10} fill="#66ff66" />
      <rect x={582.5} y={25.5} width={10} height={10} fill="#ff9966" />
      <rect x={696.5} y={25.5} width={10} height={10} fill="#3355ff" />
    </svg>
  );
}
